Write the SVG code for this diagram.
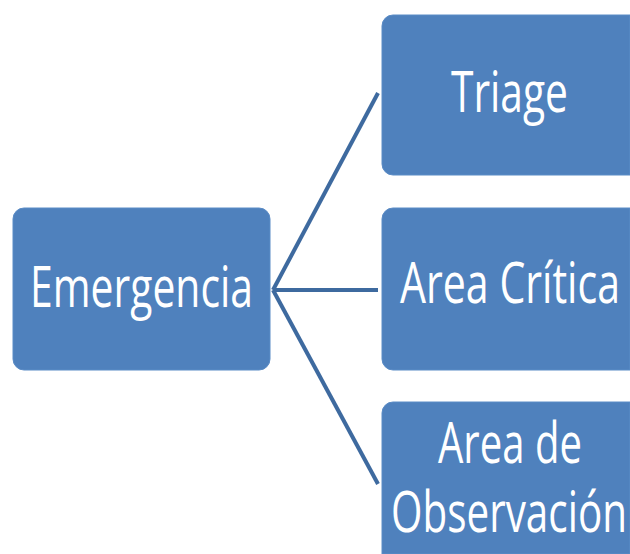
<svg xmlns="http://www.w3.org/2000/svg" width="630" height="554" viewBox="0 0 630 554">
<style>
.box{fill:#4F81BD;stroke:#5B8CC6;stroke-width:1}
.lbl{fill:#FFFFFF;font-family:"Open Sans","Noto Sans","Liberation Sans",sans-serif;font-size:41px}
.con{stroke:#3E6A9F;stroke-width:4;fill:none;stroke-linecap:butt}
</style>
<rect width="630" height="554" fill="#FFFFFF"/>
<g id="connectors">
<line class="con" x1="273" y1="290" x2="378" y2="93"/>
<line class="con" x1="273" y1="290" x2="378" y2="290"/>
<line class="con" x1="273" y1="290" x2="378" y2="484"/>
</g>
<g id="node-emergencia">
<rect class="box" x="13" y="208" width="257" height="162" rx="11"/>
<text class="lbl" transform="translate(30,307) scale(1,1.36)" x="0" y="0" textLength="223" lengthAdjust="spacingAndGlyphs">Emergencia</text>
</g>
<g id="node-triage">
<path class="box" d="M393,15 H630 V175 H393 A11,11 0 0 1 382,164 V26 A11,11 0 0 1 393,15 Z"/>
<text class="lbl" transform="translate(451,112) scale(1,1.36)" x="0" y="0" textLength="117" lengthAdjust="spacingAndGlyphs">Triage</text>
</g>
<g id="node-area-critica">
<path class="box" d="M393,208 H630 V370 H393 A11,11 0 0 1 382,359 V219 A11,11 0 0 1 393,208 Z"/>
<text class="lbl" transform="translate(400,303) scale(1,1.36)" x="0" y="0" textLength="220" lengthAdjust="spacingAndGlyphs">Area Crítica</text>
</g>
<g id="node-area-observacion">
<path class="box" d="M393,402 H630 V554 H382 V413 A11,11 0 0 1 393,402 Z"/>
<text class="lbl" transform="translate(438,463) scale(1,1.36)" x="0" y="0" textLength="144" lengthAdjust="spacingAndGlyphs">Area de</text>
<text class="lbl" transform="translate(391,532) scale(1,1.36)" x="0" y="0" textLength="236" lengthAdjust="spacingAndGlyphs">Observación</text>
</g>
</svg>
